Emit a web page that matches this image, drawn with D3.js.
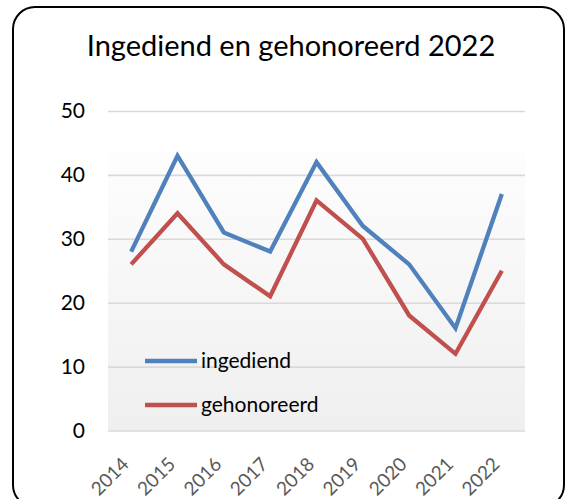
<!DOCTYPE html>
<html><head><meta charset="utf-8">
<script src="https://cdn.jsdelivr.net/npm/d3@7"></script>
<style>body{margin:0;background:#fff}svg{display:block}text{font-family:Lato,"Open Sans",sans-serif}</style>
</head><body><svg id="c" width="565" height="499"></svg>
<script>
const years = ["2014","2015","2016","2017","2018","2019","2020","2021","2022"];
const ingediend = [28,43,31,28,42,32,26,16,37];
const gehonoreerd = [26,34,26,21,36,30,18,12,25];
const yTicks = [0,10,20,30,40,50];
const seriesNames = ["ingediend","gehonoreerd"];
const seriesColors = ["#4f81bd","#c0504d"];
const title = "Ingediend en gehonoreerd 2022";

const svg = d3.select("#c");
const L=108, R=525, T=111, B=430.5;
const x = d3.scaleBand().domain(years).range([L,R]);
const y = d3.scaleLinear().domain([0,50]).range([B,T]);

const defs = svg.append("defs");
const g = defs.append("linearGradient").attr("id","bg").attr("x1",0).attr("y1",0).attr("x2",0).attr("y2",1);
g.append("stop").attr("offset","0%").attr("stop-color","#fdfdfd");
g.append("stop").attr("offset","100%").attr("stop-color","#efefef");

svg.append("rect").attr("x",13).attr("y",7).attr("width",551).attr("height",500)
  .attr("rx",22).attr("fill","#fff").attr("stroke","#000").attr("stroke-width",2);

svg.append("rect").attr("x",L).attr("y",152).attr("width",R-L).attr("height",B-152).attr("fill","url(#bg)");

svg.append("text").attr("x",291).attr("y",56).attr("text-anchor","middle")
  .attr("font-size",29).attr("fill","#000").text(title);

// gridlines
const yAxis = d3.axisLeft(y).tickValues(yTicks).tickSize(-(R-L)).tickPadding(23);
const ga = svg.append("g").attr("transform",`translate(${L},0)`).call(yAxis);
ga.select(".domain").remove();
ga.selectAll(".tick line").attr("stroke","#d9d9d9").attr("stroke-width",1.6);
ga.selectAll(".tick text").attr("font-size",21).attr("fill","#000").attr("font-family","Lato");

const xAxis = d3.axisBottom(x).tickSize(0).tickPadding(0);
const gx = svg.append("g").attr("transform",`translate(0,${B})`).call(xAxis);
gx.select(".domain").remove();
gx.selectAll(".tick text").attr("font-size",19).attr("fill","#595959").attr("font-family","Lato")
  .attr("text-anchor","end").attr("dy",0).attr("y",0)
  .attr("transform","translate(-1,35) rotate(-45)");

const line = d3.line().x((d,i)=>x(years[i])+x.bandwidth()/2).y(d=>y(d));
[ingediend,gehonoreerd].forEach((s,k)=>{
  svg.append("path").datum(s).attr("d",line).attr("fill","none")
    .attr("stroke",seriesColors[k]).attr("stroke-width",4.3).attr("stroke-linejoin","miter");
});

// legend
const ly = [361,405];
seriesNames.forEach((n,k)=>{
  svg.append("line").attr("x1",145).attr("x2",197).attr("y1",ly[k]).attr("y2",ly[k])
    .attr("stroke",seriesColors[k]).attr("stroke-width",4.3);
  svg.append("text").attr("x",201).attr("y",ly[k]).attr("dy","0.35em").attr("font-size",21)
    .attr("fill","#000").text(n);
});
</script></body></html>
